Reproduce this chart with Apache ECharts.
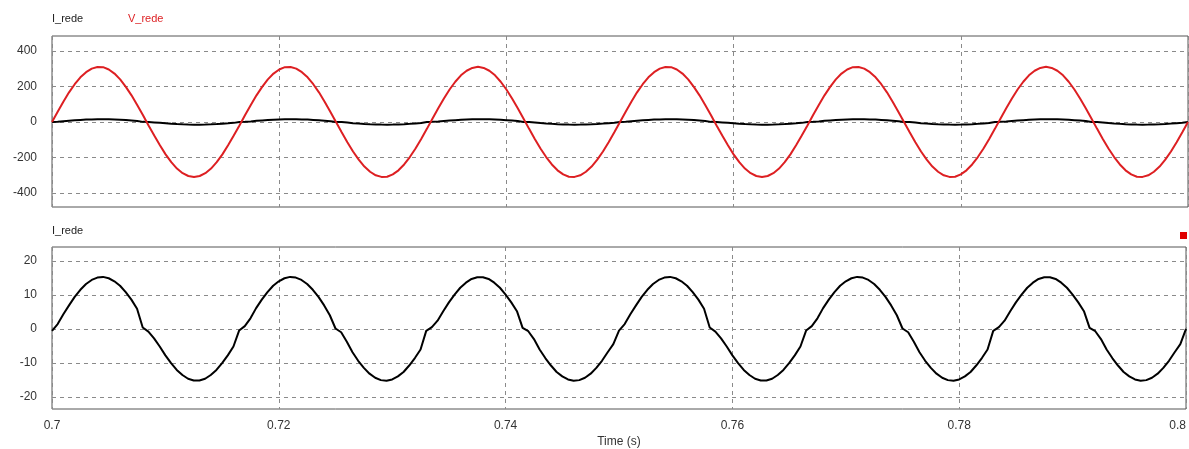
<!DOCTYPE html>
<html>
<head>
<meta charset="utf-8">
<script src="https://cdn.jsdelivr.net/npm/echarts@6/dist/echarts.min.js"></script>
<style>
  html, body { margin: 0; padding: 0; background: #fff; }
  #chart { width: 1189px; height: 449px; }
</style>
</head>
<body>
<div id="chart"></div>
<script>
// sample grid: t = 0.7 + k * 0.0005 s
const T_START = 0.7;
const T_STEP = 0.0005;

const vTicks = [-400, -200, 0, 200, 400];
const iTicks = [-20, -10, 0, 10, 20];

// V_rede (V)
const vRede = [
  0, 58, 114, 167, 213, 252, 281, 301, 310, 309,
  296, 273, 240, 198, 150, 96, 39, -20, -77, -132,
  -183, -227, -263, -289, -305, -311, -305, -289, -263, -227,
  -183, -132, -77, -20, 39, 96, 150, 198, 240, 273,
  296, 309, 310, 301, 281, 252, 213, 167, 114, 58,
  0, -58, -114, -167, -213, -252, -281, -301, -310, -309,
  -296, -273, -240, -198, -150, -96, -39, 20, 77, 132,
  183, 227, 263, 289, 305, 311, 305, 289, 263, 227,
  183, 132, 77, 20, -39, -96, -150, -198, -240, -273,
  -296, -309, -310, -301, -281, -252, -213, -167, -114, -58,
  0, 58, 114, 167, 213, 252, 281, 301, 310, 309,
  296, 273, 240, 198, 150, 96, 39, -20, -77, -132,
  -183, -227, -263, -289, -305, -311, -305, -289, -263, -227,
  -183, -132, -77, -20, 39, 96, 150, 198, 240, 273,
  296, 309, 310, 301, 281, 252, 213, 167, 114, 58,
  0, -58, -114, -167, -213, -252, -281, -301, -310, -309,
  -296, -273, -240, -198, -150, -96, -39, 20, 77, 132,
  183, 227, 263, 289, 305, 311, 305, 289, 263, 227,
  183, 132, 77, 20, -39, -96, -150, -198, -240, -273,
  -296, -309, -310, -301, -281, -252, -213, -167, -114, -58,
  0
];

// I_rede (A) (note the small flat steps at zero crossings)
const iRede = [
  -0.6, 1.4, 4.3, 6.9, 9.4, 11.5, 13.2, 14.4, 15.1, 15.3,
  14.9, 14.0, 12.7, 10.8, 8.6, 5.9, 0.4, -0.8, -2.8, -5.2,
  -7.8, -10.1, -12.1, -13.6, -14.7, -15.2, -15.2, -14.7, -13.6, -12.1,
  -10.1, -7.8, -5.2, -0.5, 0.8, 3.1, 6.1, 8.6, 10.8, 12.7,
  14.0, 14.9, 15.3, 15.1, 14.4, 13.2, 11.5, 9.4, 6.9, 4.0,
  0.1, -1.0, -3.8, -6.9, -9.4, -11.5, -13.2, -14.4, -15.1, -15.3,
  -14.9, -14.0, -12.7, -10.8, -8.6, -6.1, -0.6, 0.5, 2.4, 5.2,
  7.8, 10.1, 12.1, 13.6, 14.7, 15.2, 15.2, 14.7, 13.6, 12.1,
  10.1, 7.8, 5.2, 0.3, -0.7, -3.0, -6.1, -8.6, -10.8, -12.7,
  -14.0, -14.9, -15.3, -15.1, -14.4, -13.2, -11.5, -9.4, -6.9, -4.5,
  -0.5, 1.4, 4.3, 6.9, 9.4, 11.5, 13.2, 14.4, 15.1, 15.3,
  14.9, 14.0, 12.7, 10.8, 8.6, 5.9, 0.4, -0.8, -2.8, -5.2,
  -7.8, -10.1, -12.1, -13.6, -14.7, -15.2, -15.2, -14.7, -13.6, -12.1,
  -10.1, -7.8, -5.2, -0.5, 0.8, 3.1, 6.1, 8.6, 10.8, 12.7,
  14.0, 14.9, 15.3, 15.1, 14.4, 13.2, 11.5, 9.4, 6.9, 4.0,
  0.1, -1.0, -3.8, -6.9, -9.4, -11.5, -13.2, -14.4, -15.1, -15.3,
  -14.9, -14.0, -12.7, -10.8, -8.6, -6.1, -0.6, 0.5, 2.4, 5.2,
  7.8, 10.1, 12.1, 13.6, 14.7, 15.2, 15.2, 14.7, 13.6, 12.1,
  10.1, 7.8, 5.2, 0.3, -0.7, -3.0, -6.1, -8.6, -10.8, -12.7,
  -14.0, -14.9, -15.3, -15.1, -14.4, -13.2, -11.5, -9.4, -6.9, -4.5,
  0
];

const toPairs = vals => vals.map((v, k) => [+(T_START + k * T_STEP).toFixed(4), v]);

const FONT = 'Liberation Sans, Arial, sans-serif';
const RED = '#dd1f22';
const gridLine = { show: true, lineStyle: { color: '#8a8a8a', type: [4, 4], width: 1 } };

const chart = echarts.init(document.getElementById('chart'));

chart.setOption({
  animation: false,
  backgroundColor: '#fff',
  textStyle: { fontFamily: FONT },
  grid: [
    { left: 52, top: 36, width: 1136, height: 171, show: true, borderColor: '#555', borderWidth: 1, backgroundColor: 'transparent' },
    { left: 52, top: 247, width: 1136, height: 163, show: true, borderColor: '#555', borderWidth: 1, backgroundColor: 'transparent' }
  ],
  xAxis: [
    {
      gridIndex: 0, type: 'value', min: 0.7, max: 0.8, interval: 0.02,
      axisLine: { show: false }, axisTick: { show: false }, axisLabel: { show: false },
      splitLine: gridLine
    },
    {
      gridIndex: 1, type: 'value', min: 0.7, max: 0.8, interval: 0.02,
      axisLine: { show: false }, axisTick: { show: false },
      axisLabel: { color: '#333', fontSize: 12, margin: 11, alignMaxLabel: 'right' },
      splitLine: gridLine,
      name: 'Time (s)', nameLocation: 'middle', nameGap: 27,
      nameTextStyle: { color: '#333', fontSize: 12 }
    }
  ],
  yAxis: [
    {
      gridIndex: 0, type: 'value', min: -480, max: 485,
      axisLine: { show: false },
      axisTick: { show: false, customValues: vTicks },
      axisLabel: { customValues: vTicks, color: '#333', fontSize: 12, margin: 15 },
      splitLine: gridLine
    },
    {
      gridIndex: 1, type: 'value', min: -23.6, max: 24.1,
      axisLine: { show: false },
      axisTick: { show: false, customValues: iTicks },
      axisLabel: { customValues: iTicks, color: '#333', fontSize: 12, margin: 15 },
      splitLine: gridLine
    }
  ],
  series: [
    {
      name: 'I_rede', type: 'line', xAxisIndex: 0, yAxisIndex: 0,
      data: toPairs(iRede), showSymbol: false,
      lineStyle: { color: '#000', width: 2 }, itemStyle: { color: '#000' }
    },
    {
      name: 'V_rede', type: 'line', xAxisIndex: 0, yAxisIndex: 0,
      data: toPairs(vRede), showSymbol: false,
      lineStyle: { color: RED, width: 2 }, itemStyle: { color: RED }
    },
    {
      name: 'I_rede (2)', type: 'line', xAxisIndex: 1, yAxisIndex: 1,
      data: toPairs(iRede), showSymbol: false,
      lineStyle: { color: '#000', width: 2 }, itemStyle: { color: '#000' }
    }
  ],
  graphic: [
    { type: 'text', left: 52, top: 13, style: { text: 'I_rede', fill: '#222', font: '11px ' + FONT } },
    { type: 'text', left: 128, top: 13, style: { text: 'V_rede', fill: RED, font: '11px ' + FONT } },
    { type: 'text', left: 52, top: 225, style: { text: 'I_rede', fill: '#222', font: '11px ' + FONT } },
    { type: 'rect', shape: { x: 1180, y: 232, width: 7, height: 7 }, style: { fill: '#e00000' } }
  ]
});
</script>
</body>
</html>
